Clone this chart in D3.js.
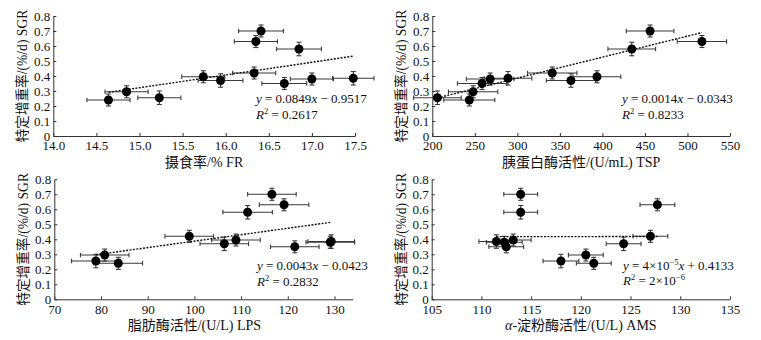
<!DOCTYPE html>
<html>
<head>
<meta charset="utf-8">
<script src="https://cdn.jsdelivr.net/npm/d3@7/dist/d3.min.js"></script>
<style>
  body { margin: 0; background: #fff; }
  svg { display: block; }
  text { font-family: "Liberation Serif", "Times New Roman", "Noto Sans CJK SC", serif; fill: #111; }
</style>
</head>
<body>
<svg id="chart" width="761" height="340"></svg>
<script>
// 12 groups, same order in every array
const sgr    = [0.24, 0.255, 0.295, 0.35, 0.37, 0.38, 0.385, 0.395, 0.42, 0.58, 0.63, 0.70]
const sgrErr = [0.04, 0.045, 0.04, 0.04, 0.045, 0.04, 0.045, 0.04, 0.04, 0.045, 0.04, 0.04]

const fr     = [14.64, 15.23, 14.85, 16.68, 15.94, 17.00, 17.48, 15.74, 16.33, 16.85, 16.35, 16.41]
const frErr  = [0.25, 0.25, 0.25, 0.26, 0.26, 0.25, 0.24, 0.25, 0.25, 0.26, 0.25, 0.26]

const tsp    = [243.5, 206, 248, 258.5, 363, 268, 289, 393.6, 341, 434.5, 517, 456]
const tspErr = [30, 28, 29, 29, 29, 28, 28, 28, 29, 28, 29, 28]

const lps    = [83.7, 78.9, 80.8, 121.5, 106.4, 129.1, 129.3, 108.9, 98.9, 111.4, 119.2, 116.6]
const lpsErr = [5.2, 5.2, 5.2, 5.2, 5.2, 5.2, 5.0, 5.2, 5.2, 5.3, 5.3, 5.2]

const ams    = [121.3, 118.0, 120.5, 112.5, 124.3, 112.3, 111.5, 113.2, 127.0, 113.95, 127.7, 113.95]
const amsErr = [1.75, 1.8, 1.75, 1.75, 1.75, 1.8, 1.75, 1.8, 1.75, 1.7, 1.75, 1.7]

const sgrTicks = [0, 0.1, 0.2, 0.3, 0.4, 0.5, 0.6, 0.7, 0.8]
const frTicks  = [14.0, 14.5, 15.0, 15.5, 16.0, 16.5, 17.0, 17.5]
const tspTicks = [200, 250, 300, 350, 400, 450, 500, 550]
const lpsTicks = [70, 80, 90, 100, 110, 120, 130]
const amsTicks = [105, 110, 115, 120, 125, 130, 135]

// linear fits: [slope, intercept]
const frFit  = [0.0849, -0.9517]
const tspFit = [0.0014, -0.0343]
const lpsFit = [0.0043, -0.0423]
const amsFit = [4e-5, 0.4133]

const frEq  = [[{ t: 'y', i: 1 }, { t: ' = 0.0849' }, { t: 'x', i: 1 }, { t: ' − 0.9517' }],
               [{ t: 'R', i: 1 }, { t: '2', sup: 1 }, { t: ' = 0.2617' }]]
const tspEq = [[{ t: 'y', i: 1 }, { t: ' = 0.0014' }, { t: 'x', i: 1 }, { t: ' − 0.0343' }],
               [{ t: 'R', i: 1 }, { t: '2', sup: 1 }, { t: ' = 0.8233' }]]
const lpsEq = [[{ t: 'y', i: 1 }, { t: ' = 0.0043' }, { t: 'x', i: 1 }, { t: ' − 0.0423' }],
               [{ t: 'R', i: 1 }, { t: '2', sup: 1 }, { t: ' = 0.2832' }]]
const amsEq = [[{ t: 'y', i: 1 }, { t: ' = 4×10' }, { t: '−5', sup: 1 }, { t: 'x', i: 1 }, { t: ' + 0.4133' }],
               [{ t: 'R', i: 1 }, { t: '2', sup: 1 }, { t: ' = 2×10' }, { t: '−6', sup: 1 }]]

const yTitle = '特定增重率/(%/d) SGR'

const panels = [
  { xs: fr, xErr: frErr, ticks: frTicks, fmt: d => d.toFixed(1), domain: [14, 17.5],
    left: 53.3, right: 355, top: 16, bottom: 136, title: '摄食率/% FR',
    fit: frFit, eq: frEq, eqX: 256, eqY: 103 },
  { xs: tsp, xErr: tspErr, ticks: tspTicks, fmt: d3.format('d'), domain: [200, 550],
    left: 432.3, right: 730, top: 16, bottom: 136, title: '胰蛋白酶活性/(U/mL) TSP',
    fit: tspFit, eq: tspEq, eqX: 622, eqY: 103 },
  { xs: lps, xErr: lpsErr, ticks: lpsTicks, fmt: d3.format('d'), domain: [70, 133.9],
    left: 54.3, right: 352.7, top: 179.3, bottom: 299.3, title: '脂肪酶活性/(U/L) LPS',
    fit: lpsFit, eq: lpsEq, eqX: 257, eqY: 270 },
  { xs: ams, xErr: amsErr, ticks: amsTicks, fmt: d3.format('d'), domain: [105, 135],
    left: 431.7, right: 730, top: 179.3, bottom: 299.3, title: 'α-淀粉酶活性/(U/L) AMS', italicPrefix: 'α',
    fit: amsFit, eq: amsEq, eqX: 623, eqY: 269.5 },
]

const svg = d3.select('#chart')
const errColor = '#3a3a3a'

panels.forEach(p => {
  const x = d3.scaleLinear().domain(p.domain).range([p.left, p.right])
  const y = d3.scaleLinear().domain([0, 0.8]).range([p.bottom, p.top])
  const g = svg.append('g')
  const pts = p.xs.map((v, i) => ({ x: v, y: sgr[i], ex: p.xErr[i], ey: sgrErr[i] }))

  // axes
  g.append('g')
    .attr('transform', `translate(0,${p.bottom})`)
    .call(d3.axisBottom(x).tickValues(p.ticks).tickFormat(p.fmt)
      .tickSizeInner(-3).tickSizeOuter(0).tickPadding(5))
  g.append('g')
    .attr('transform', `translate(${p.left},0)`)
    .call(d3.axisLeft(y).tickValues(sgrTicks).tickFormat(d => d === 0 ? '0' : d.toFixed(1))
      .tickSizeInner(-3).tickSizeOuter(0).tickPadding(3))
  g.selectAll('.domain, .tick line').attr('stroke', '#333')
  g.selectAll('.tick text').attr('font-size', 13)
    .style('font-family', '"Liberation Serif", serif').attr('fill', '#111')

  // error bars
  const eb = g.append('g').attr('stroke', errColor).attr('stroke-width', 1.1)
  eb.selectAll('line.xe').data(pts).join('line').attr('class', 'xe')
    .attr('x1', d => x(d.x - d.ex)).attr('x2', d => x(d.x + d.ex))
    .attr('y1', d => y(d.y)).attr('y2', d => y(d.y))
  eb.selectAll('line.xc').data(pts.flatMap(d => [{ d, s: -1 }, { d, s: 1 }])).join('line').attr('class', 'xc')
    .attr('x1', c => x(c.d.x + c.s * c.d.ex)).attr('x2', c => x(c.d.x + c.s * c.d.ex))
    .attr('y1', c => y(c.d.y) - 2.2).attr('y2', c => y(c.d.y) + 2.2)
  eb.selectAll('line.ye').data(pts).join('line').attr('class', 'ye')
    .attr('x1', d => x(d.x)).attr('x2', d => x(d.x))
    .attr('y1', d => y(d.y - d.ey)).attr('y2', d => y(d.y + d.ey))
  eb.selectAll('line.yc').data(pts.flatMap(d => [{ d, s: -1 }, { d, s: 1 }])).join('line').attr('class', 'yc')
    .attr('x1', c => x(c.d.x) - 2.5).attr('x2', c => x(c.d.x) + 2.5)
    .attr('y1', c => y(c.d.y + c.s * c.d.ey)).attr('y2', c => y(c.d.y + c.s * c.d.ey))

  // trend line over the data range
  const ext = d3.extent(p.xs)
  const line = d3.line().x(v => x(v)).y(v => y(p.fit[0] * v + p.fit[1]))
  g.append('path')
    .attr('d', line(ext))
    .attr('fill', 'none')
    .attr('stroke', '#111')
    .attr('stroke-width', 1.4)
    .attr('stroke-dasharray', '2,1.4')

  // points
  g.selectAll('circle').data(pts).join('circle')
    .attr('cx', d => x(d.x)).attr('cy', d => y(d.y)).attr('r', 4.5)
    .attr('fill', '#000')

  // equation
  p.eq.forEach((row, r) => {
    const t = g.append('text').attr('x', p.eqX).attr('y', p.eqY + r * 15.5).attr('font-size', 13)
    let shifted = false
    row.forEach(s => {
      const ts = t.append('tspan').text(s.t)
      if (s.i) ts.attr('font-style', 'italic')
      if (s.sup) {
        ts.attr('font-size', 8.5).attr('dy', shifted ? 0 : -5)
        shifted = true
      } else if (shifted) {
        ts.attr('dy', 5)
        shifted = false
      }
    })
  })

  // axis titles
  const mid = (x(p.ticks[0]) + x(p.ticks[p.ticks.length - 1])) / 2
  const xt = g.append('text').attr('x', mid).attr('y', p.bottom + 31)
    .attr('text-anchor', 'middle').attr('font-size', 14)
  if (p.italicPrefix) {
    xt.append('tspan').attr('font-style', 'italic').text(p.italicPrefix)
    xt.append('tspan').text(p.title.slice(p.italicPrefix.length))
  } else {
    xt.text(p.title)
  }
  g.append('text')
    .attr('transform', `translate(${p.left - 26},${(p.top + p.bottom) / 2}) rotate(-90)`)
    .attr('text-anchor', 'middle').attr('font-size', 13.6)
    .text(yTitle)
})
</script>
</body>
</html>
